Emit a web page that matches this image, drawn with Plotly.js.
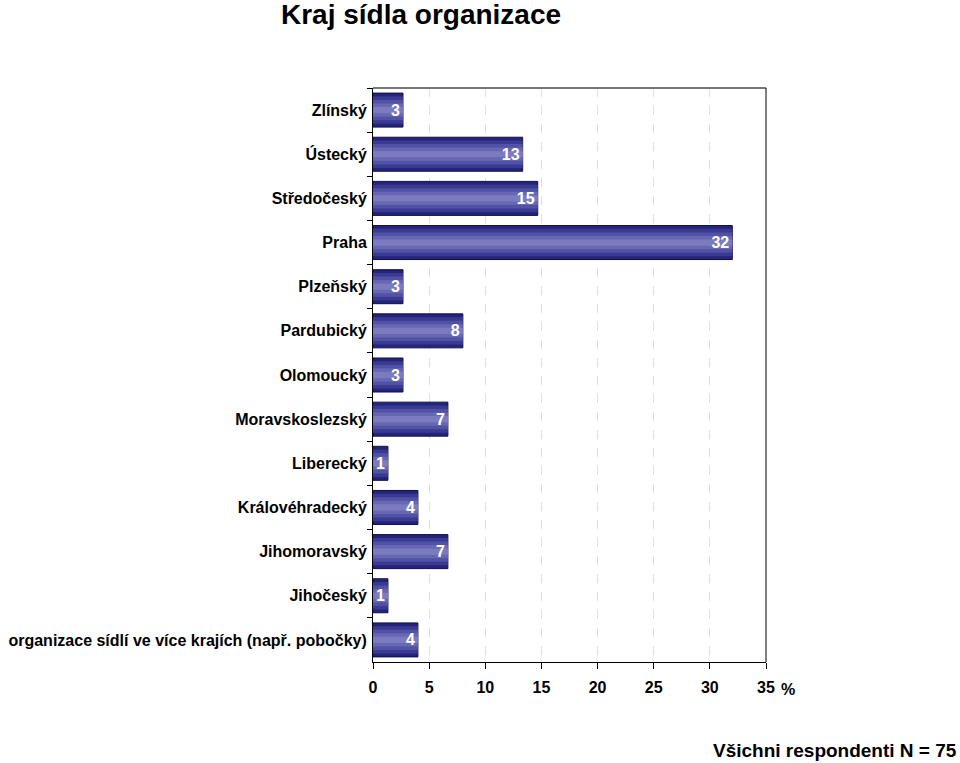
<!DOCTYPE html>
<html>
<head>
<meta charset="utf-8">
<script src="https://cdn.plot.ly/plotly-3.0.1.min.js"></script>
<style>
html,body{margin:0;padding:0;background:#fff;}
#chart{width:960px;height:763px;}
</style>
</head>
<body>
<div id="chart"></div>
<script>
// Categories, top to bottom as in the chart
const categories = [
  "Zlínský",
  "Ústecký",
  "Středočeský",
  "Praha",
  "Plzeňský",
  "Pardubický",
  "Olomoucký",
  "Moravskoslezský",
  "Liberecký",
  "Královéhradecký",
  "Jihomoravský",
  "Jihočeský",
  "organizace sídlí ve více krajích (např. pobočky)"
];
// Percent of respondents (N = 75)
const percentValues = [2.67, 13.33, 14.67, 32, 2.67, 8, 2.67, 6.67, 1.33, 4, 6.67, 1.33, 4];
const xTickValues = [0, 5, 10, 15, 20, 25, 30, 35];

const FONT = "Liberation Sans, Arial, sans-serif";

// layered bars to imitate the banded gradient fill
const layers = [
  {w: 0.77, c: "#24247c", line: {color: "#0f0f45", width: 1}},
  {w: 0.62, c: "#3a3a92", line: {width: 0}},
  {w: 0.46, c: "#5151a5", line: {width: 0}},
  {w: 0.30, c: "#6767b3", line: {width: 0}},
  {w: 0.14, c: "#7b7bbf", line: {width: 0}}
];

const traces = layers.map(l => ({
  type: "bar",
  orientation: "h",
  y: categories,
  x: percentValues,
  width: l.w,
  marker: {color: l.c, line: l.line},
  hoverinfo: "skip",
  showlegend: false
}));

// value labels on top
traces.push({
  type: "bar",
  orientation: "h",
  y: categories,
  x: percentValues,
  width: 0.77,
  marker: {color: "rgba(0,0,0,0)", line: {width: 0}},
  text: percentValues.map(v => Math.round(v).toString()),
  textposition: "inside",
  insidetextanchor: "end",
  constraintext: "none",
  textfont: {family: FONT, size: 16, color: "#ffffff", weight: "bold"},
  hoverinfo: "skip",
  showlegend: false
});

const plotL = 373, plotR = 766, plotT = 88, plotB = 662;
const pw = plotR - plotL, ph = plotB - plotT;

const layout = {
  width: 960,
  height: 763,
  margin: {l: plotL, r: 960 - plotR, t: plotT, b: 763 - plotB},
  paper_bgcolor: "#ffffff",
  plot_bgcolor: "#ffffff",
  barmode: "overlay",
  font: {family: FONT, color: "#000"},
  title: {
    text: "Kraj sídla organizace",
    font: {family: FONT, size: 28, weight: "bold", color: "#000"},
    x: 421 / 960, xanchor: "center", xref: "container",
    y: 1 - 14 / 763, yanchor: "middle", yref: "container"
  },
  xaxis: {
    range: [0, 35],
    tickvals: xTickValues,
    ticktext: xTickValues.map(String),
    ticks: "outside",
    ticklen: 6,
    tickcolor: "#000",
    showline: true,
    linecolor: "#000",
    linewidth: 1,
    showgrid: true,
    gridcolor: "#dedede",
    griddash: "dash",
    gridwidth: 1,
    zeroline: false,
    tickfont: {family: FONT, size: 16, weight: "bold", color: "#000"},
    ticklabelstandoff: 5,
    fixedrange: true
  },
  yaxis: {
    type: "category",
    autorange: "reversed",
    ticks: "outside",
    tickson: "boundaries",
    ticklen: 5,
    tickcolor: "#000",
    showline: true,
    linecolor: "#000",
    linewidth: 1,
    showgrid: false,
    zeroline: false,
    tickfont: {family: FONT, size: 16, weight: "bold", color: "#000"},
    ticklabelstandoff: 2,
    fixedrange: true
  },
  shapes: [
    {type: "line", xref: "paper", yref: "paper", x0: 0, x1: 1, y0: 1, y1: 1,
     line: {color: "#777", width: 2}},
    {type: "line", xref: "paper", yref: "paper", x0: 1, x1: 1, y0: 0, y1: 1,
     line: {color: "#000", width: 1}}
  ],
  annotations: [
    {text: "%", xref: "paper", yref: "paper",
     x: (779 - plotL) / pw, xanchor: "left",
     y: -(689 - plotB) / ph, yanchor: "middle",
     showarrow: false,
     font: {family: FONT, size: 16, weight: "bold", color: "#000"}},
    {text: "Všichni respondenti N = 75", xref: "paper", yref: "paper",
     x: (959 - plotL) / pw, xanchor: "right",
     y: -(750 - plotB) / ph, yanchor: "middle",
     showarrow: false,
     font: {family: FONT, size: 19, weight: "bold", color: "#000"}}
  ]
};

Plotly.newPlot("chart", traces, layout, {displayModeBar: false, staticPlot: true});
</script>
</body>
</html>
